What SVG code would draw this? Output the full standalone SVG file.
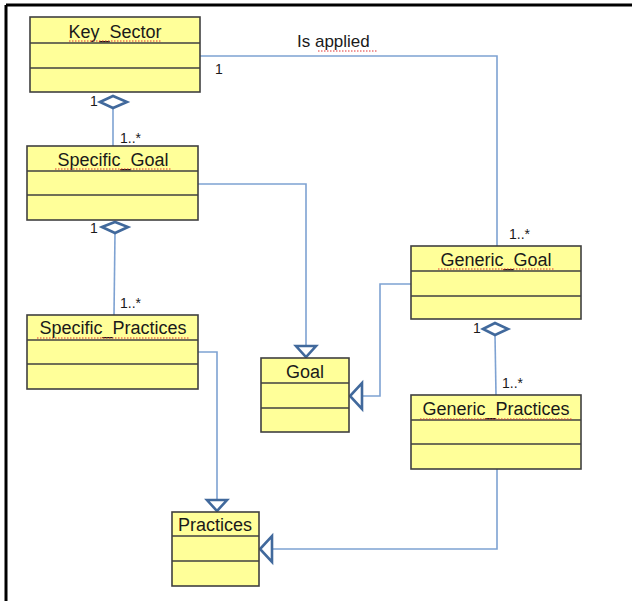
<svg xmlns="http://www.w3.org/2000/svg" width="632" height="601" viewBox="0 0 632 601">
<defs>
<style>
.box{fill:#FFFF99;stroke:#404040;stroke-width:1.6}
.div{stroke:#404040;stroke-width:1.4}
.t{font-family:"Liberation Sans",Arial,sans-serif;font-size:18px;fill:#1a1a1a;text-anchor:middle}
.m{font-family:"Liberation Sans",Arial,sans-serif;font-size:14px;fill:#1a1a1a}
.c{fill:none;stroke:#7EA2D2;stroke-width:1.6}
.h{fill:#fff;stroke:#41699C;stroke-width:2.6;stroke-linejoin:miter}
.sq{fill:none;stroke:#E03030;stroke-width:1;stroke-dasharray:1.5 1.5}
</style>
</defs>
<rect x="0" y="0" width="632" height="601" fill="#fff"/>
<g id="frame">
<line x1="6" y1="5" x2="632" y2="5" stroke="#000" stroke-width="3"/>
<line x1="6" y1="5" x2="6" y2="601" stroke="#000" stroke-width="3"/>
</g>
<g id="connectors">
<polyline class="c" points="200,56 497,56 497,246"/>
<line class="c" x1="113" y1="108" x2="113" y2="146"/>
<line class="c" x1="115" y1="233" x2="114" y2="315"/>
<polyline class="c" points="198,184 306,184 306,346"/>
<polyline class="c" points="411,284 380,284 380,396 362,396"/>
<line class="c" x1="495" y1="335" x2="496" y2="395"/>
<polyline class="c" points="198,352 217,352 217,500"/>
<polyline class="c" points="497,469 497,549 272,549"/>
<polygon class="h" points="100,102 113,96 127,102 113,108"/>
<polygon class="h" points="102,227 115,222 128,227 115,233"/>
<polygon class="h" points="483,329 495,323 508,329 495,335"/>
<polygon class="h" points="296,346 316,346 306,357"/>
<polygon class="h" points="362,383 362,409 350,396"/>
<polygon class="h" points="207,500 227,500 217,511"/>
<polygon class="h" points="272,536 272,562 260,549"/>
<text class="m" x="297" y="47" style="font-size:17px">Is applied</text>
<path class="sq" d="M318,51 H378"/>
<text class="m" x="215" y="74">1</text>
<text class="m" x="90" y="106">1</text>
<text class="m" x="120" y="143">1..*</text>
<text class="m" x="90" y="233">1</text>
<text class="m" x="120" y="308">1..*</text>
<text class="m" x="509" y="239">1..*</text>
<text class="m" x="473" y="333">1</text>
<text class="m" x="502" y="388">1..*</text>
</g>
<g id="key_sector">
<rect class="box" x="30" y="17" width="170" height="75"/>
<line class="div" x1="30" y1="43" x2="200" y2="43"/>
<line class="div" x1="30" y1="68" x2="200" y2="68"/>
<text class="t" x="115" y="38">Key_Sector</text>
<path class="sq" d="M69,41 H162"/>
</g>
<g id="specific_goal">
<rect class="box" x="27" y="146" width="171" height="74"/>
<line class="div" x1="27" y1="171" x2="198" y2="171"/>
<line class="div" x1="27" y1="195" x2="198" y2="195"/>
<text class="t" x="113" y="166">Specific_Goal</text>
<path class="sq" d="M55,169 H171"/>
</g>
<g id="specific_practices">
<rect class="box" x="27" y="315" width="171" height="74"/>
<line class="div" x1="27" y1="340" x2="198" y2="340"/>
<line class="div" x1="27" y1="364" x2="198" y2="364"/>
<text class="t" x="113" y="334">Specific_Practices</text>
<path class="sq" d="M37,338 H189"/>
</g>
<g id="goal">
<rect class="box" x="261" y="358" width="88" height="74"/>
<line class="div" x1="261" y1="383" x2="349" y2="383"/>
<line class="div" x1="261" y1="408" x2="349" y2="408"/>
<text class="t" x="305" y="378">Goal</text>
</g>
<g id="generic_goal">
<rect class="box" x="411" y="246" width="170" height="73"/>
<line class="div" x1="411" y1="271" x2="581" y2="271"/>
<line class="div" x1="411" y1="296" x2="581" y2="296"/>
<text class="t" x="496" y="266">Generic_Goal</text>
<path class="sq" d="M438,269 H554"/>
</g>
<g id="generic_practices">
<rect class="box" x="411" y="395" width="170" height="74"/>
<line class="div" x1="411" y1="420" x2="581" y2="420"/>
<line class="div" x1="411" y1="444" x2="581" y2="444"/>
<text class="t" x="496" y="415">Generic_Practices</text>
<path class="sq" d="M420,419 H573"/>
</g>
<g id="practices">
<rect class="box" x="172" y="512" width="87" height="74"/>
<line class="div" x1="172" y1="536" x2="259" y2="536"/>
<line class="div" x1="172" y1="561" x2="259" y2="561"/>
<text class="t" x="215" y="531">Practices</text>
</g>
</svg>
